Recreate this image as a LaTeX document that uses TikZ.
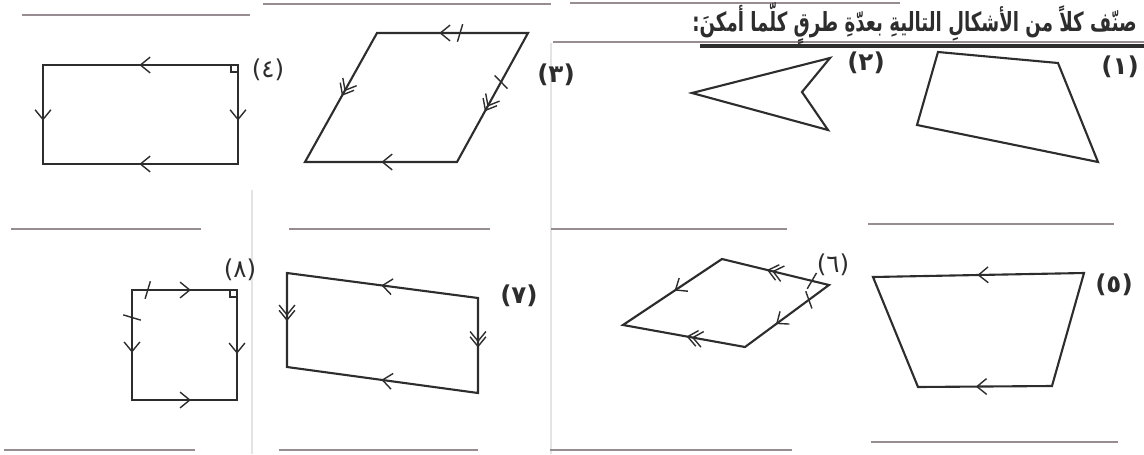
\documentclass[tikz,border=0pt]{standalone}
\usepackage{fontspec}
\usepackage{tikz}
\usetikzlibrary{decorations.markings}
\newfontfamily\arabicfont[Script=Arabic]{DejaVu Sans}
\TeXXeTstate=1
\definecolor{ink}{RGB}{45,45,45}
\definecolor{rulegray}{RGB}{150,140,145}
\definecolor{fold}{RGB}{228,228,228}

\tikzset{
	fig/.style={line width=1.2pt,ink,line join=miter},
	chev/.style={line width=0.8pt,ink},
	onearr/.style={postaction={decorate,decoration={markings,mark=at position #1 with {\draw[chev] (-5.5pt,4.5pt)--(0,0)--(-5.5pt,-4.5pt);}}}},
	twoarr/.style={postaction={decorate,decoration={markings,mark=at position #1 with {\draw[chev] (-5.5pt,4.5pt)--(0,0)--(-5.5pt,-4.5pt) (-8.5pt,4.5pt)--(-3pt,0)--(-8.5pt,-4.5pt);}}}},
	tickmk/.style={postaction={decorate,decoration={markings,mark=at position #1 with {\draw[chev] (-1.5pt,-5pt)--(1.5pt,5pt);}}}},
	answer/.style={line width=0.9pt,rulegray},
	lab/.style={inner sep=0pt,ink,font=\arabicfont\fontsize{14}{16}\selectfont},
	boldlab/.style={inner sep=0pt,ink,font=\arabicfont\bfseries\fontsize{14}{16}\selectfont}
}

\begin{document}
\begin{tikzpicture}[x=0.02cm,y=-0.02cm]
	\useasboundingbox (0,0) rectangle (1144,454);

	\draw[fold,line width=0.6pt] (252,190)--(252,454);
	\draw[fold,line width=0.6pt] (551,43)--(551,454);

	\draw[answer] (263,4)--(551,4);
	\draw[answer] (570,3)--(900,3);
	\draw[answer] (22,15)--(250,15);
	\draw[answer] (553,42)--(1144,42);
	\draw[ink,line width=1.8pt] (700,46)--(1144,46);
	\draw[answer] (11,229)--(201,229);
	\draw[answer] (289,229)--(490,229);
	\draw[answer] (551,229)--(787,229);
	\draw[answer] (868,224)--(1114,224);
	\draw[answer] (4,450)--(195,450);
	\draw[answer] (279,450)--(478,450);
	\draw[answer] (550,450)--(792,450);
	\draw[answer] (871,442)--(1118,442);

	\node[anchor=east,inner sep=0pt,ink,xscale=0.69,transform shape,font=\arabicfont\bfseries\fontsize{15}{17}\selectfont] (title) at (1137,24) {\beginR صنّف كلاً من الأشكالِ التاليةِ بعدّةِ طرقٍ كلّما أمكنَ:\endR};

	\coordinate (r4a) at (43,65);
	\coordinate (r4b) at (238,65);
	\coordinate (r4c) at (238,164);
	\coordinate (r4d) at (43,164);
	\draw[fig] (r4a)--(r4b)--(r4c)--(r4d)--cycle;
	\path[onearr=0.5] (r4b)--(r4a);
	\path[onearr=0.55] (r4b)--(r4c);
	\path[onearr=0.5] (r4c)--(r4d);
	\path[onearr=0.55] (r4a)--(r4d);
	\draw[chev] ([xshift=-4pt]r4b) |- ([yshift=-4pt]r4b);
	\node[lab] (lab4) at (268,70) {(٤)};

	\coordinate (p3a) at (377,33);
	\coordinate (p3b) at (528,33);
	\coordinate (p3c) at (457,162);
	\coordinate (p3d) at (305,162);
	\draw[fig] (p3a)--(p3b)--(p3c)--(p3d)--cycle;
	\path[onearr=0.58,tickmk=0.45] (p3b)--(p3a);
	\path[tickmk=0.38,twoarr=0.6] (p3b)--(p3c);
	\path[twoarr=0.48] (p3a)--(p3d);
	\path[onearr=0.49] (p3c)--(p3d);
	\node[boldlab] (lab3) at (556,75) {(٣)};

	\coordinate (k2t) at (830,58);
	\coordinate (k2n) at (802,92);
	\coordinate (k2b) at (828,130);
	\coordinate (k2l) at (692,93);
	\draw[fig] (k2l)--(k2t)--(k2n)--(k2b)--cycle;
	\node[boldlab] (lab2) at (866,63) {(٢)};

	\coordinate (q1a) at (938,52);
	\coordinate (q1b) at (1058,63);
	\coordinate (q1c) at (1098,162);
	\coordinate (q1d) at (917,125);
	\draw[fig] (q1a)--(q1b)--(q1c)--(q1d)--cycle;
	\node[boldlab] (lab1) at (1120,67) {(١)};

	\coordinate (s8a) at (132,290);
	\coordinate (s8b) at (237,290);
	\coordinate (s8c) at (237,400);
	\coordinate (s8d) at (132,400);
	\draw[fig] (s8a)--(s8b)--(s8c)--(s8d)--cycle;
	\path[tickmk=0.15,onearr=0.55] (s8a)--(s8b);
	\path[tickmk=0.25,onearr=0.56] (s8a)--(s8d);
	\path[onearr=0.57] (s8b)--(s8c);
	\path[onearr=0.55] (s8d)--(s8c);
	\draw[chev] ([xshift=-4pt]s8b) |- ([yshift=-4pt]s8b);
	\node[lab] (lab8) at (240,270) {(٨)};

	\coordinate (p7a) at (287,273);
	\coordinate (p7b) at (478,298);
	\coordinate (p7c) at (478,393);
	\coordinate (p7d) at (287,367);
	\draw[fig] (p7a)--(p7b)--(p7c)--(p7d)--cycle;
	\path[onearr=0.5] (p7b)--(p7a);
	\path[onearr=0.5] (p7c)--(p7d);
	\path[twoarr=0.5] (p7a)--(p7d);
	\path[twoarr=0.51] (p7b)--(p7c);
	\node[boldlab] (lab7) at (519,296) {(٧)};

	\coordinate (r6t) at (722,259);
	\coordinate (r6r) at (829,285);
	\coordinate (r6b) at (745,347);
	\coordinate (r6l) at (623,325);
	\draw[fig] (r6t)--(r6r)--(r6b)--(r6l)--cycle;
	\path[tickmk=0.16,twoarr=0.57] (r6r)--(r6t);
	\path[tickmk=0.24,onearr=0.62] (r6r)--(r6b);
	\path[onearr=0.47] (r6t)--(r6l);
	\path[twoarr=0.47] (r6b)--(r6l);
	\node[lab] (lab6) at (833,265) {(٦)};

	\coordinate (t5a) at (873,277);
	\coordinate (t5b) at (1084,273);
	\coordinate (t5c) at (1052,386);
	\coordinate (t5d) at (918,387);
	\draw[fig] (t5a)--(t5b)--(t5c)--(t5d)--cycle;
	\path[onearr=0.5] (t5b)--(t5a);
	\path[onearr=0.56] (t5c)--(t5d);
	\node[boldlab] (lab5) at (1114,285) {(٥)};
\end{tikzpicture}
\end{document}
